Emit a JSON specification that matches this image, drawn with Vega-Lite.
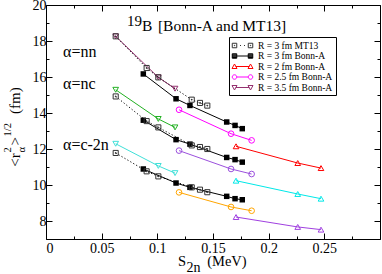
{
  "$schema": "https://vega.github.io/schema/vega-lite/v6.json",
  "width": 334,
  "height": 234,
  "autosize": {"type": "none"},
  "padding": {"left": 46, "top": 5, "right": 2, "bottom": 35},
  "config": {
    "view": {"stroke": "black", "strokeWidth": 1},
    "axis": {"labelFont": "Liberation Serif", "labelFontSize": 14, "labelColor": "black", "tickColor": "black", "domain": false, "grid": false, "title": null, "tickWidth": 1},
    "text": {"font": "Liberation Serif", "color": "black"}
  },
  "data": {"values": [
    {"k": "nn-A", "s": "A", "x": 0.0626, "y": 18.26},
    {"k": "nn-A", "s": "A", "x": 0.0904, "y": 16.5},
    {"k": "nn-A", "s": "A", "x": 0.1009, "y": 15.98},
    {"k": "nn-A", "s": "A", "x": 0.1309, "y": 14.74},
    {"k": "nn-A", "s": "A", "x": 0.1383, "y": 14.56},
    {"k": "nn-A", "s": "A", "x": 0.1449, "y": 14.41},
    {"k": "nc-A", "s": "A", "x": 0.0626, "y": 14.92},
    {"k": "nc-A", "s": "A", "x": 0.0904, "y": 13.55},
    {"k": "nc-A", "s": "A", "x": 0.1009, "y": 13.2},
    {"k": "nc-A", "s": "A", "x": 0.1309, "y": 12.2},
    {"k": "nc-A", "s": "A", "x": 0.1383, "y": 12.11},
    {"k": "nc-A", "s": "A", "x": 0.1449, "y": 12.0},
    {"k": "c2n-A", "s": "A", "x": 0.0626, "y": 11.78},
    {"k": "c2n-A", "s": "A", "x": 0.0904, "y": 10.76},
    {"k": "c2n-A", "s": "A", "x": 0.1009, "y": 10.48},
    {"k": "c2n-A", "s": "A", "x": 0.1309, "y": 9.87},
    {"k": "c2n-A", "s": "A", "x": 0.1383, "y": 9.74},
    {"k": "c2n-A", "s": "A", "x": 0.1449, "y": 9.6},
    {"k": "nn-B", "s": "B", "x": 0.0874, "y": 16.17},
    {"k": "nn-B", "s": "B", "x": 0.1168, "y": 14.79},
    {"k": "nn-B", "s": "B", "x": 0.1293, "y": 14.42},
    {"k": "nn-B", "s": "B", "x": 0.1623, "y": 13.5},
    {"k": "nn-B", "s": "B", "x": 0.1698, "y": 13.31},
    {"k": "nn-B", "s": "B", "x": 0.1763, "y": 13.13},
    {"k": "nc-B", "s": "B", "x": 0.0874, "y": 13.6},
    {"k": "nc-B", "s": "B", "x": 0.1168, "y": 12.52},
    {"k": "nc-B", "s": "B", "x": 0.1293, "y": 12.27},
    {"k": "nc-B", "s": "B", "x": 0.1623, "y": 11.53},
    {"k": "nc-B", "s": "B", "x": 0.1698, "y": 11.41},
    {"k": "nc-B", "s": "B", "x": 0.1763, "y": 11.27},
    {"k": "c2n-B", "s": "B", "x": 0.0874, "y": 10.89},
    {"k": "c2n-B", "s": "B", "x": 0.1168, "y": 10.11},
    {"k": "c2n-B", "s": "B", "x": 0.1293, "y": 9.87},
    {"k": "c2n-B", "s": "B", "x": 0.1623, "y": 9.37},
    {"k": "c2n-B", "s": "B", "x": 0.1698, "y": 9.24},
    {"k": "c2n-B", "s": "B", "x": 0.1763, "y": 9.18},
    {"k": "nn-C", "s": "C", "x": 0.1707, "y": 12.15},
    {"k": "nn-C", "s": "C", "x": 0.2261, "y": 11.22},
    {"k": "nn-C", "s": "C", "x": 0.247, "y": 10.94},
    {"k": "nc-C", "s": "C", "x": 0.1707, "y": 10.24},
    {"k": "nc-C", "s": "C", "x": 0.2261, "y": 9.5},
    {"k": "nc-C", "s": "C", "x": 0.247, "y": 9.24},
    {"k": "c2n-C", "s": "C", "x": 0.1707, "y": 8.22},
    {"k": "c2n-C", "s": "C", "x": 0.2261, "y": 7.67},
    {"k": "c2n-C", "s": "C", "x": 0.247, "y": 7.52},
    {"k": "nn-D", "s": "D", "x": 0.1195, "y": 14.18},
    {"k": "nn-D", "s": "D", "x": 0.1662, "y": 12.85},
    {"k": "nn-D", "s": "D", "x": 0.1847, "y": 12.48},
    {"k": "nc-D", "s": "D", "x": 0.1195, "y": 11.91},
    {"k": "nc-D", "s": "D", "x": 0.1662, "y": 10.89},
    {"k": "nc-D", "s": "D", "x": 0.1847, "y": 10.61},
    {"k": "c2n-D", "s": "D", "x": 0.1195, "y": 9.59},
    {"k": "c2n-D", "s": "D", "x": 0.1662, "y": 8.78},
    {"k": "c2n-D", "s": "D", "x": 0.1847, "y": 8.57},
    {"k": "nn-E", "s": "E", "x": 0.0626, "y": 18.26},
    {"k": "nn-E", "s": "E", "x": 0.1009, "y": 15.98},
    {"k": "nn-E", "s": "E", "x": 0.1159, "y": 15.35},
    {"k": "nc-E", "s": "E", "x": 0.0626, "y": 15.29},
    {"k": "nc-E", "s": "E", "x": 0.1009, "y": 13.67},
    {"k": "nc-E", "s": "E", "x": 0.1159, "y": 13.2},
    {"k": "c2n-E", "s": "E", "x": 0.0626, "y": 12.29},
    {"k": "c2n-E", "s": "E", "x": 0.1009, "y": 11.06},
    {"k": "c2n-E", "s": "E", "x": 0.1159, "y": 10.66}
  ]},
  "layer": [
    {
      "transform": [{"filter": "datum.s != 'A'"}],
      "mark": {"type": "line", "strokeWidth": 1},
      "encoding": {
        "x": {"field": "x", "type": "quantitative", "scale": {"domain": [0, 0.3], "nice": false, "zero": false},
              "axis": {"orient": "bottom", "values": [0, 0.05, 0.1, 0.15, 0.2, 0.25, 0.3], "tickSize": -6, "labelPadding": 8, "labelExpr": "datum.value > 0.29 ? '' : format(datum.value, '~g')"}},
        "y": {"field": "y", "type": "quantitative", "scale": {"domain": [7, 20], "nice": false, "zero": false},
              "axis": {"orient": "left", "values": [8, 10, 12, 14, 16, 18, 20], "tickSize": -6, "labelPadding": 6, "format": "d"}},
        "color": {"field": "k", "type": "nominal", "legend": null,
                  "scale": {"domain": ["nn-B", "nn-C", "nn-D", "nn-E", "nc-B", "nc-C", "nc-D", "nc-E", "c2n-B", "c2n-C", "c2n-D", "c2n-E"],
                            "range": ["#000000", "#ff0000", "#ff00ff", "#94306f", "#000000", "#00e8e8", "#9b50dd", "#22b022", "#000000", "#a040e0", "#ffa500", "#40e0d8"]}}
      }
    },
    {
      "transform": [{"filter": "datum.s == 'A'"}],
      "mark": {"type": "line", "strokeWidth": 1, "strokeDash": [1.2, 2.2], "color": "black"},
      "encoding": {
        "x": {"field": "x", "type": "quantitative", "scale": {"domain": [0, 0.3], "nice": false, "zero": false},
              "axis": {"orient": "bottom", "values": [0.025, 0.075, 0.125, 0.175, 0.225, 0.275], "tickSize": -3, "labels": false}},
        "y": {"field": "y", "type": "quantitative", "scale": {"domain": [7, 20], "nice": false, "zero": false},
              "axis": {"orient": "left", "values": [7, 9, 11, 13, 15, 17, 19], "tickSize": -3, "labels": false}},
        "detail": {"field": "k", "type": "nominal"}
      }
    },
    {
      "transform": [{"filter": "datum.s == 'C'"}],
      "mark": {"type": "point", "shape": "triangle-up", "filled": false, "size": 32, "strokeWidth": 1, "opacity": 1},
      "encoding": {
        "x": {"field": "x", "type": "quantitative", "scale": {"domain": [0, 0.3], "nice": false, "zero": false},
              "axis": {"orient": "top", "values": [0, 0.05, 0.1, 0.15, 0.2, 0.25, 0.3], "tickSize": -6, "labels": false}},
        "y": {"field": "y", "type": "quantitative", "scale": {"domain": [7, 20], "nice": false, "zero": false},
              "axis": {"orient": "right", "values": [8, 10, 12, 14, 16, 18, 20], "tickSize": -6, "labels": false}},
        "color": {"field": "k", "type": "nominal", "legend": null}
      }
    },
    {
      "transform": [{"filter": "datum.s == 'D'"}],
      "mark": {"type": "point", "shape": "circle", "filled": false, "size": 32, "strokeWidth": 1, "opacity": 1},
      "encoding": {
        "x": {"field": "x", "type": "quantitative", "axis": null},
        "y": {"field": "y", "type": "quantitative", "axis": null},
        "color": {"field": "k", "type": "nominal", "legend": null}
      }
    },
    {
      "transform": [{"filter": "datum.s == 'E'"}],
      "mark": {"type": "point", "shape": "triangle-down", "filled": false, "size": 32, "strokeWidth": 1, "opacity": 1},
      "encoding": {
        "x": {"field": "x", "type": "quantitative", "axis": null},
        "y": {"field": "y", "type": "quantitative", "axis": null},
        "color": {"field": "k", "type": "nominal", "legend": null}
      }
    },
    {
      "transform": [{"filter": "datum.s == 'B'"}],
      "mark": {"type": "square", "filled": true, "size": 30, "color": "black", "opacity": 1},
      "encoding": {
        "x": {"field": "x", "type": "quantitative", "scale": {"domain": [0, 0.3], "nice": false, "zero": false},
              "axis": {"orient": "top", "values": [0.025, 0.075, 0.125, 0.175, 0.225, 0.275], "tickSize": -3, "labels": false}},
        "y": {"field": "y", "type": "quantitative", "scale": {"domain": [7, 20], "nice": false, "zero": false},
              "axis": {"orient": "right", "values": [7, 9, 11, 13, 15, 17, 19], "tickSize": -3, "labels": false}}
      }
    },
    {
      "transform": [{"filter": "datum.s == 'A'"}],
      "mark": {"type": "point", "filled": false, "size": 26, "strokeWidth": 1, "color": "#333333", "opacity": 1,
               "shape": "M-1,-1H1V1H-1Z M-0.15,-0.15H0.15V0.15H-0.15Z"},
      "encoding": {
        "x": {"field": "x", "type": "quantitative", "axis": null},
        "y": {"field": "y", "type": "quantitative", "axis": null}
      }
    },
    {
      "data": {"values": [
        {"t": "α=nn", "x": 0.0153, "y": 17.41, "r": "lab"},
        {"t": "α=nc", "x": 0.0153, "y": 15.63, "r": "lab"},
        {"t": "α=c-2n", "x": 0.0153, "y": 12.24, "r": "lab"},
        {"t": "19", "x": 0.0728, "y": 19.13, "r": "sup"},
        {"t": "B", "x": 0.0862, "y": 18.85, "r": "ttl"},
        {"t": "[Bonn-A and MT13]", "x": 0.1005, "y": 18.85, "r": "ttl"},
        {"t": "S", "x": 0.1186, "y": 5.72, "r": "ax"},
        {"t": "2n", "x": 0.1262, "y": 5.39, "r": "sub"},
        {"t": "(MeV)", "x": 0.1448, "y": 5.72, "r": "ax"}
      ]},
      "mark": {"type": "text", "align": "left", "baseline": "middle"},
      "encoding": {
        "x": {"field": "x", "type": "quantitative", "axis": null},
        "y": {"field": "y", "type": "quantitative", "axis": null},
        "text": {"field": "t"},
        "size": {"field": "r", "type": "ordinal", "legend": null,
                 "scale": {"domain": ["lab", "ttl", "sup", "ax", "sub"], "range": [16, 14, 9, 17, 10]}}
      }
    },
    {
      "data": {"values": [
        {"t": "<r", "x": -0.0278, "y": 11.02, "r": "main"},
        {"t": "2", "x": -0.0341, "y": 11.8, "r": "small"},
        {"t": "α", "x": -0.0216, "y": 11.8, "r": "small"},
        {"t": ">", "x": -0.0278, "y": 12.2, "r": "main"},
        {"t": "1/2", "x": -0.0341, "y": 12.7, "r": "small"},
        {"t": "(fm)", "x": -0.0278, "y": 13.95, "r": "main"}
      ]},
      "mark": {"type": "text", "align": "left", "baseline": "middle", "angle": 270},
      "encoding": {
        "x": {"field": "x", "type": "quantitative", "axis": null},
        "y": {"field": "y", "type": "quantitative", "axis": null},
        "text": {"field": "t"},
        "size": {"field": "r", "type": "ordinal", "legend": null,
                 "scale": {"domain": ["main", "small"], "range": [15, 10.5]}}
      }
    },
    {
      "data": {"values": [
        {"lab": "R = 3 fm MT13"},
        {"lab": "R = 3 fm Bonn-A"},
        {"lab": "R = 2 fm Bonn-A"},
        {"lab": "R = 2.5 fm Bonn-A"},
        {"lab": "R = 3.5 fm Bonn-A"}
      ]},
      "mark": {"type": "point", "clip": true, "filled": false, "strokeWidth": 1, "opacity": 1},
      "encoding": {
        "x": {"datum": -1, "type": "quantitative", "axis": null},
        "y": {"datum": -100, "type": "quantitative", "axis": null},
        "stroke": {"field": "lab", "type": "nominal",
                   "scale": {"domain": ["R = 3 fm MT13", "R = 3 fm Bonn-A", "R = 2 fm Bonn-A", "R = 2.5 fm Bonn-A", "R = 3.5 fm Bonn-A"],
                             "range": ["#333333", "#000000", "#ff0000", "#ff00ff", "#94306f"]},
                   "legend": {"orient": "none", "legendX": 183, "legendY": 32, "title": null, "strokeColor": "black", "fillColor": "white",
                             "padding": 3, "labelFont": "Liberation Serif", "labelFontSize": 9.5, "labelColor": "black", "symbolSize": 100,
                             "symbolStrokeWidth": 1, "symbolOffset": 5, "labelOffset": 10, "rowPadding": 0.5}},
        "shape": {"field": "lab", "type": "nominal",
                  "scale": {"domain": ["R = 3 fm MT13", "R = 3 fm Bonn-A", "R = 2 fm Bonn-A", "R = 2.5 fm Bonn-A", "R = 3.5 fm Bonn-A"],
                            "range": [
                              "M-2.05,-0.45H-1.15V0.45H-2.05Z M-1.65,-0.05H-1.55V0.05H-1.65Z M-0.5,0H-0.3 M0.3,0H0.5 M1.15,-0.45H2.05V0.45H1.15Z M1.55,-0.05H1.65V0.05H1.55Z",
                              "M-2.05,-0.45H-1.15V0.45H-2.05Z M-2.05,-0.25H-1.15 M-2.05,-0.05H-1.15 M-2.05,0.15H-1.15 M-2.05,0.3H-1.15 M-1.15,0H1.15 M1.15,-0.45H2.05V0.45H1.15Z M1.15,-0.25H2.05 M1.15,-0.05H2.05 M1.15,0.15H2.05 M1.15,0.3H2.05",
                              "M-2.1,0.4L-1.6,-0.5L-1.1,0.4Z M-1.35,0H1.35 M1.1,0.4L1.6,-0.5L2.1,0.4Z",
                              "M-1.15,0A0.45,0.45 0 1 1 -2.05,0A0.45,0.45 0 1 1 -1.15,0Z M-1.15,0H1.15 M2.05,0A0.45,0.45 0 1 1 1.15,0A0.45,0.45 0 1 1 2.05,0Z",
                              "M-2.1,-0.4L-1.6,0.5L-1.1,-0.4Z M-1.35,0H1.35 M1.1,-0.4L1.6,0.5L2.1,-0.4Z"
                            ]},
                  "legend": {"orient": "none", "legendX": 183, "legendY": 32, "title": null, "strokeColor": "black", "fillColor": "white",
                             "padding": 3, "labelFont": "Liberation Serif", "labelFontSize": 9.5, "labelColor": "black", "symbolSize": 100,
                             "symbolStrokeWidth": 1, "symbolOffset": 5, "labelOffset": 10, "rowPadding": 0.5}}
      }
    }
  ],
  "resolve": {
    "scale": {"size": "independent"},
    "axis": {"x": "independent", "y": "independent"}
  }
}
